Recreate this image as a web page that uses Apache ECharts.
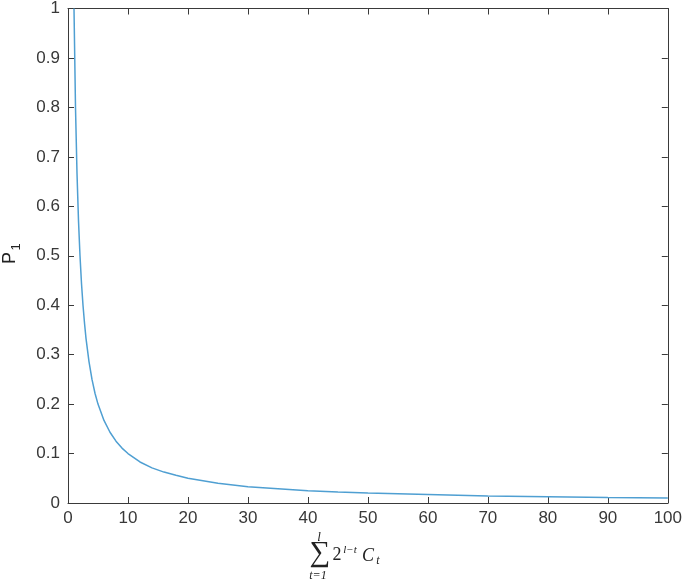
<!DOCTYPE html>
<html><head><meta charset="utf-8">
<script src="https://cdn.jsdelivr.net/npm/echarts@6/dist/echarts.min.js"></script>
<style>html,body{margin:0;padding:0;background:#fff}#c{width:685px;height:583px}</style>
</head><body><div id="c"></div>
<script>
var xValues = [1, 1.25, 1.5, 1.75, 2, 2.25, 2.5, 2.75, 3, 3.5, 4, 4.5, 5, 6, 7, 8, 9, 10, 12, 14, 16, 18, 20, 25, 30, 35, 40, 45, 50, 60, 70, 80, 90, 100];
var p1Values = [1, 0.8, 0.667, 0.571, 0.5, 0.444, 0.4, 0.364, 0.333, 0.286, 0.25, 0.222, 0.2, 0.167, 0.143, 0.125, 0.111, 0.1, 0.083, 0.071, 0.0625, 0.056, 0.05, 0.04, 0.033, 0.029, 0.025, 0.022, 0.02, 0.017, 0.014, 0.0125, 0.011, 0.01];
var xTicks = [0, 10, 20, 30, 40, 50, 60, 70, 80, 90, 100];
var yTicks = [0, 0.1, 0.2, 0.3, 0.4, 0.5, 0.6, 0.7, 0.8, 0.9, 1];

var chart = echarts.init(document.getElementById('c'));
var axisCol = '#3a3a3a';
var lab = {color: '#383838', fontFamily: 'Liberation Sans, Arial', fontSize: 17};
function axisBase(extra) {
  return Object.assign({
    type: 'value',
    axisLine: {show: true, onZero: false, lineStyle: {color: axisCol, width: 1}},
    axisTick: {show: true, inside: true, length: 6, lineStyle: {color: axisCol}},
    splitLine: {show: false}
  }, extra);
}
var data = xValues.map(function (x, i) { return [x, p1Values[i]]; });
var serif = 'Liberation Serif, Times New Roman, serif';
function t(x, y, s, font) {
  return {type: 'text', x: x, y: y, style: {text: s, font: font, fill: '#222', align: 'center', verticalAlign: 'middle'}};
}
chart.setOption({
  animation: false,
  grid: {left: 68, right: 17, top: 7, bottom: 80},
  xAxis: [
    axisBase({min: xTicks[0], max: xTicks[xTicks.length - 1], interval: 10, position: 'bottom',
      axisLabel: Object.assign({margin: 7}, lab)}),
    axisBase({min: xTicks[0], max: xTicks[xTicks.length - 1], interval: 10, position: 'top',
      axisLabel: {show: false}})
  ],
  yAxis: [
    axisBase({min: yTicks[0], max: yTicks[yTicks.length - 1], interval: 0.1, position: 'left',
      axisLabel: Object.assign({margin: 8}, lab)}),
    axisBase({min: yTicks[0], max: yTicks[yTicks.length - 1], interval: 0.1, position: 'right',
      axisLabel: {show: false}})
  ],
  series: [{
    type: 'line', data: data, showSymbol: false, smooth: false,
    lineStyle: {color: '#4f9fd2', width: 1.5}
  }],
  graphic: [
    {type: 'group', x: 10, y: 258, rotation: Math.PI / 2, children: [
      {type: 'text', x: 0, y: 0, style: {text: 'P', font: '18px Liberation Sans', fill: '#222', align: 'center', verticalAlign: 'middle'}},
      {type: 'text', x: 11, y: 6, style: {text: '1', font: '13px Liberation Sans', fill: '#222', align: 'center', verticalAlign: 'middle'}}
    ]},
    t(320, 553, '\u2211', '29px ' + serif),
    t(319, 538, 'l', 'italic 13px ' + serif),
    t(318, 576, 't=1', 'italic 12px ' + serif),
    t(337, 555, '2', '18px ' + serif),
    t(350, 550, 'l\u2212t', 'italic 11px ' + serif),
    t(368, 556, 'C', 'italic 18px ' + serif),
    t(378, 561, 't', 'italic 12px ' + serif)
  ]
});
</script></body></html>
